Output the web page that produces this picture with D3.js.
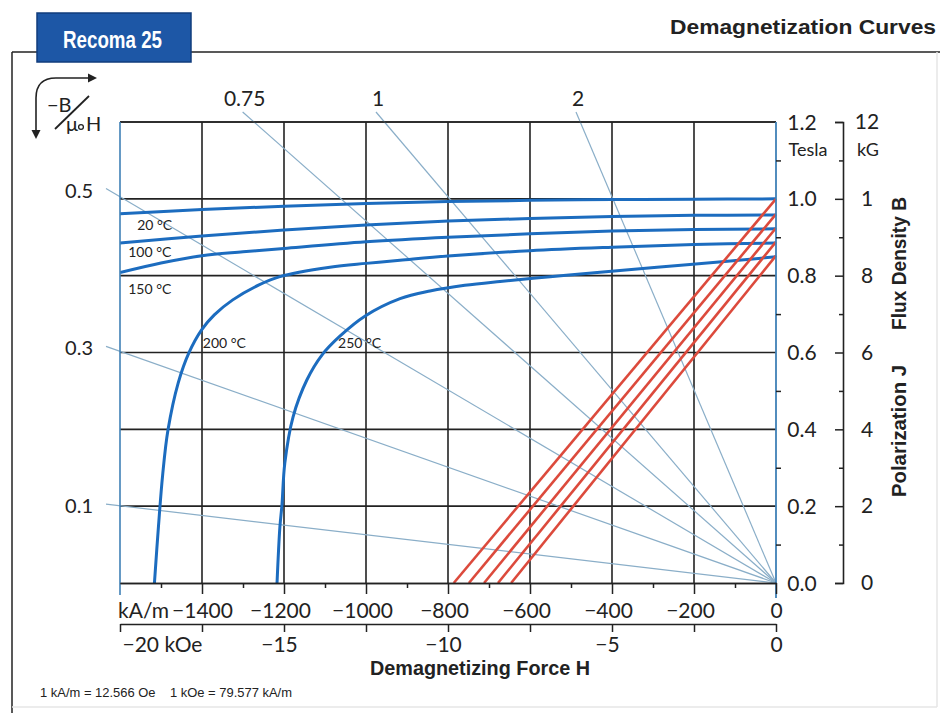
<!DOCTYPE html>
<html>
<head>
<meta charset="utf-8">
<script src="https://cdn.jsdelivr.net/npm/d3@7"></script>
<style>
  body { margin: 0; background: #fff; }
  svg { display: block; }
  .num { font-family: Lato, "Open Sans", sans-serif; font-size: 21px; fill: #222; }
  .small { font-family: Lato, "Open Sans", sans-serif; font-size: 14px; fill: #222; }
  .cond { font-family: "Liberation Sans", Arial, sans-serif; font-weight: bold; fill: #222; }
</style>
</head>
<body>
<div id="chart"></div>
<script>
// ---- data (H in kA/m, J and B in tesla) ----
const tempLabels = ["20 °C", "100 °C", "150 °C", "200 °C", "250 °C"];

// polarization curves J(H), one list per temperature
const j20  = [[0,1.000],[-200,0.999],[-400,0.998],[-600,0.996],[-800,0.993],[-1000,0.988],[-1200,0.981],[-1400,0.972],[-1600,0.961]];
const j100 = [[0,0.958],[-200,0.957],[-400,0.954],[-600,0.949],[-800,0.942],[-1000,0.932],[-1200,0.919],[-1400,0.903],[-1600,0.885]];
const j150 = [[0,0.922],[-200,0.920],[-400,0.916],[-600,0.909],[-800,0.900],[-1000,0.888],[-1200,0.871],[-1300,0.862],[-1400,0.852],[-1500,0.833],[-1600,0.808]];
const j200 = [[0,0.885],[-200,0.881],[-400,0.874],[-600,0.865],[-800,0.851],[-917,0.840],[-1000,0.832],[-1088,0.822],[-1212,0.797],[-1261,0.776],[-1325,0.737],[-1370,0.698],[-1401,0.659],[-1432,0.599],[-1458,0.521],[-1483,0.398],[-1496,0.281],[-1506,0.150],[-1516,0.000]];
const j250 = [[0,0.849],[-210,0.829],[-429,0.809],[-551,0.797],[-673,0.785],[-759,0.775],[-844,0.760],[-917,0.740],[-1002,0.695],[-1063,0.643],[-1107,0.594],[-1144,0.529],[-1178,0.432],[-1198,0.312],[-1205,0.203],[-1210,0.146],[-1217,0.000]];
const jCurves = [j20, j100, j150, j200, j250];

// straight B lines: remanence at H = 0 and coercivity HcB at B = 0
const bRemanence  = [1.000, 0.960, 0.924, 0.888, 0.852];
const bCoercivity = [-786, -749, -712, -678, -646];

// load lines  -B / mu0 H
const permeance = [0.1, 0.3, 0.5, 0.75, 1, 2];
const permeanceLabels = ["0.1", "0.3", "0.5", "0.75", "1", "2"];

// ticks
const hTicks = [-1400, -1200, -1000, -800, -600, -400, -200, 0];
const hMinorTicks = [-1500, -1300, -1100, -900, -700, -500, -300, -100];
const oeTicks = [-20, -17.5, -15, -12.5, -10, -7.5, -5, -2.5, 0];
const oeLabelled = [-20, -15, -10, -5, 0];
const teslaTicks = [0, 0.2, 0.4, 0.6, 0.8, 1.0, 1.2];
const teslaMinorTicks = [0.1, 0.3, 0.5, 0.7, 0.9, 1.1];
const kgTicks = [0, 1, 2, 3, 4, 5, 6, 7, 8, 9, 10, 11, 12];
const kgLabels = ["0", "", "2", "", "4", "", "6", "", "8", "", "1", "", "12"];

// ---- layout ----
const W = 940, H = 713;
const MU0 = 4 * Math.PI * 1e-4;   // tesla per kA/m
const minus = "\u2212";

const svg = d3.select("#chart").append("svg").attr("width", W).attr("height", H);

const x = d3.scaleLinear().domain([-1600, 0]).range([120, 776]);
const y = d3.scaleLinear().domain([0, 1.2]).range([583, 122]);
const xOe = d3.scaleLinear().domain([-20, 0]).range([120, 776]);
const yKg = d3.scaleLinear().domain([0, 12]).range([583, 122]);

svg.append("defs").append("clipPath").attr("id", "plot")
  .append("rect").attr("x", 120).attr("y", 122).attr("width", 656).attr("height", 461);

// page frame
svg.append("line").attr("x1", 12).attr("x2", 940).attr("y1", 52).attr("y2", 52).attr("stroke", "#222").attr("stroke-width", 1.5);
svg.append("line").attr("x1", 12).attr("x2", 12).attr("y1", 52).attr("y2", 713).attr("stroke", "#222").attr("stroke-width", 1.5);
svg.append("line").attr("x1", 937).attr("x2", 937).attr("y1", 52).attr("y2", 707).attr("stroke", "#e6e6e6").attr("stroke-width", 1.5);
svg.append("line").attr("x1", 12).attr("x2", 937).attr("y1", 707).attr("y2", 707).attr("stroke", "#e6e6e6").attr("stroke-width", 1.5);

// header box
svg.append("rect").attr("x", 37).attr("y", 13).attr("width", 154).attr("height", 49)
  .attr("fill", "#1d57a6").attr("stroke", "#103c7c").attr("stroke-width", 1.5);
svg.append("text").attr("class", "cond").attr("x", 63).attr("y", 48)
  .attr("textLength", 99).attr("lengthAdjust", "spacingAndGlyphs")
  .style("font-size", "23px").style("fill", "#fff").text("Recoma 25");

svg.append("text").attr("class", "cond").attr("x", 670).attr("y", 34)
  .attr("textLength", 266).attr("lengthAdjust", "spacingAndGlyphs")
  .style("font-size", "20px").text("Demagnetization Curves");

// -B / mu0 H symbol with corner arrow
const sym = svg.append("g");
sym.append("path").attr("d", "M36,132 L36,98 Q36,78 56,78 L90,78")
  .attr("fill", "none").attr("stroke", "#222").attr("stroke-width", 1.6);
sym.append("path").attr("d", "M31.5,130 L40.5,130 L36,139 Z").attr("fill", "#222");
sym.append("path").attr("d", "M88,73.5 L88,82.5 L97,78 Z").attr("fill", "#222");
sym.append("text").attr("class", "num").attr("x", 47).attr("y", 112).style("font-size", "20px").text(minus + "B");
sym.append("line").attr("x1", 55).attr("y1", 129).attr("x2", 89).attr("y2", 96).attr("stroke", "#222").attr("stroke-width", 1.8);
sym.append("text").attr("class", "num").attr("x", 66).attr("y", 131).style("font-size", "20px").text("\u03bc");
sym.append("circle").attr("cx", 81).attr("cy", 127).attr("r", 2.4).attr("fill", "none").attr("stroke", "#222").attr("stroke-width", 1.3);
sym.append("text").attr("class", "num").attr("x", 86).attr("y", 131).style("font-size", "20px").text("H");

// grid
const grid = svg.append("g").attr("stroke", "#222").attr("stroke-width", 1.6);
grid.selectAll("line.v").data(hTicks.filter(d => d < 0)).join("line").attr("class", "v")
  .attr("x1", d => x(d)).attr("x2", d => x(d)).attr("y1", y(0)).attr("y2", y(1.2));
grid.selectAll("line.h").data(teslaTicks.filter(d => d > 0)).join("line").attr("class", "h")
  .attr("x1", x(-1600)).attr("x2", x(0)).attr("y1", d => y(d)).attr("y2", d => y(d));

// load lines from the origin, running a little past the frame
const hEnd = x.invert(106), bEnd = y.invert(112);
const loads = permeance.map((p, i) => {
  const bAtLeft = -p * MU0 * hEnd;
  const left = bAtLeft <= bEnd;
  const end = left ? [hEnd, bAtLeft] : [-bEnd / (p * MU0), bEnd];
  return { p, label: permeanceLabels[i], end, side: left ? "left" : "top" };
});
svg.append("g").selectAll("line").data(loads).join("line")
  .attr("x1", x(0)).attr("y1", y(0))
  .attr("x2", d => x(d.end[0])).attr("y2", d => y(d.end[1]))
  .attr("stroke", "#8aaec8").attr("stroke-width", 1.2);
svg.append("g").selectAll("text").data(loads).join("text").attr("class", "num")
  .attr("x", d => d.side === "left" ? 93 : x(d.end[0]) + 2)
  .attr("y", d => d.side === "left" ? y(d.end[1]) + 9 : 106)
  .attr("text-anchor", d => d.side === "left" ? "end" : "middle")
  .style("font-size", d => d.side === "left" ? "20px" : "21px")
  .text(d => d.label);

// J curves
const line = d3.line().x(d => x(d[0])).y(d => y(d[1])).curve(d3.curveCatmullRom.alpha(0.5));
svg.append("g").attr("clip-path", "url(#plot)").selectAll("path")
  .data(jCurves)
  .join("path").attr("d", line)
  .attr("fill", "none").attr("stroke", "#1c6cbf").attr("stroke-width", 3);

// B lines
svg.append("g").selectAll("line").data(bRemanence).join("line")
  .attr("x1", x(0)).attr("y1", d => y(d))
  .attr("x2", (d, i) => x(bCoercivity[i])).attr("y2", y(0))
  .attr("stroke", "#dc4a3c").attr("stroke-width", 2.6);

// temperature labels (anchor points in H / J units)
const tempLabelAt = [[-1558, 0.919], [-1580, 0.849], [-1580, 0.753], [-1398, 0.612], [-1068, 0.612]];
svg.append("g").selectAll("text").data(tempLabels).join("text").attr("class", "small")
  .attr("x", (d, i) => x(tempLabelAt[i][0])).attr("y", (d, i) => y(tempLabelAt[i][1]))
  .text(d => d);

// frame
svg.append("line").attr("x1", x(-1600)).attr("x2", x(0)).attr("y1", y(1.2)).attr("y2", y(1.2)).attr("stroke", "#222").attr("stroke-width", 1.6);
svg.append("line").attr("x1", x(-1600)).attr("x2", x(-1600)).attr("y1", y(1.2)).attr("y2", 595).attr("stroke", "#3f80b6").attr("stroke-width", 1.6);
svg.append("line").attr("x1", x(0)).attr("x2", x(0)).attr("y1", y(1.2)).attr("y2", 598).attr("stroke", "#3f80b6").attr("stroke-width", 1.8);

// H axis in kA/m
const fmtH = d => d === 0 ? "0" : minus + Math.abs(d);
const axH = svg.append("g").attr("transform", `translate(0,${y(0)})`)
  .call(d3.axisBottom(x).tickValues(hTicks).tickSize(11).tickSizeOuter(0).tickFormat(fmtH));
const axHMinor = svg.append("g").attr("transform", `translate(0,${y(0)})`)
  .call(d3.axisBottom(x).tickValues(hMinorTicks).tickSize(5).tickSizeOuter(0).tickFormat(""));
[axH, axHMinor].forEach(g => {
  g.select(".domain").attr("stroke", "#222").attr("stroke-width", 1.6);
  g.selectAll(".tick line").attr("stroke", "#222").attr("stroke-width", 1.5);
});
axH.selectAll(".tick text").attr("class", "num").attr("y", 20).attr("dy", "0.71em")
  .attr("dx", d => d < 0 && d > -1400 ? -4 : 0).attr("fill", null).attr("font-size", null).attr("font-family", null);
svg.append("text").attr("class", "num").attr("x", 118).attr("y", 618).text("kA/m");

// H axis in kOe
const axOe = svg.append("g").attr("transform", "translate(0,624)")
  .call(d3.axisBottom(xOe).tickValues(oeTicks).tickSize(8).tickSizeOuter(0)
    .tickFormat(d => oeLabelled.includes(d) ? (d === 0 ? "0" : d === -20 ? minus + "20 kOe" : minus + Math.abs(d)) : ""));
axOe.select(".domain").attr("stroke", "#222").attr("stroke-width", 1.6);
axOe.selectAll(".tick line").attr("stroke", "#222").attr("stroke-width", 1.5);
axOe.selectAll(".tick text").attr("class", "num").attr("y", 13).attr("dy", "0.71em")
  .attr("fill", null).attr("font-size", null).attr("font-family", null)
  .attr("text-anchor", d => d === -20 ? "start" : "middle")
  .attr("dx", d => d === -20 ? 2 : d < 0 ? -5 : 0);

svg.append("text").attr("class", "cond").attr("x", 370).attr("y", 675)
  .attr("textLength", 220).attr("lengthAdjust", "spacingAndGlyphs")
  .style("font-size", "21px").text("Demagnetizing Force H");
svg.append("text").attr("x", 40).attr("y", 697).attr("textLength", 252).attr("lengthAdjust", "spacingAndGlyphs")
  .style("font-family", "'Liberation Sans', Arial, sans-serif").style("font-size", "13px").style("fill", "#222")
  .style("white-space", "pre")
  .text("1 kA/m = 12.566 Oe    1 kOe = 79.577 kA/m");

// tesla axis
const axT = svg.append("g").attr("transform", `translate(${x(0)},0)`)
  .call(d3.axisRight(y).tickValues(teslaMinorTicks).tickSize(5).tickSizeOuter(0).tickFormat(""));
axT.select(".domain").remove();
axT.selectAll(".tick line").attr("stroke", "#222").attr("stroke-width", 1.5);
svg.append("g").selectAll("text").data(teslaTicks).join("text").attr("class", "num")
  .attr("x", 802).attr("y", d => y(d)).attr("dy", "0.36em").attr("text-anchor", "middle")
  .text(d => d.toFixed(1));
svg.append("text").attr("class", "num").attr("x", 808).attr("y", 156).attr("text-anchor", "middle")
  .style("font-size", "18px").text("Tesla");

// kG axis
const axKg = svg.append("g").attr("transform", "translate(843,0)")
  .call(d3.axisLeft(yKg).tickValues(kgTicks).tickSizeOuter(8).tickFormat((d, i) => kgLabels[i]));
axKg.select(".domain").attr("stroke", "#222").attr("stroke-width", 1.6);
axKg.selectAll(".tick line").attr("stroke", "#222").attr("stroke-width", 1.5)
  .attr("x2", d => d % 2 === 0 ? -8 : -4);
axKg.selectAll(".tick text").attr("class", "num").attr("x", 24).attr("text-anchor", "middle")
  .attr("fill", null).attr("font-size", null).attr("font-family", null);
svg.append("text").attr("class", "num").attr("x", 868).attr("y", 156).attr("text-anchor", "middle")
  .style("font-size", "18px").text("kG");

// rotated axis titles
svg.append("text").attr("class", "cond").attr("transform", "translate(906,330) rotate(-90)")
  .attr("textLength", 133).attr("lengthAdjust", "spacingAndGlyphs")
  .style("font-size", "21px").text("Flux Density B");
svg.append("text").attr("class", "cond").attr("transform", "translate(906,497) rotate(-90)")
  .attr("textLength", 132).attr("lengthAdjust", "spacingAndGlyphs")
  .style("font-size", "21px").text("Polarization J");
</script>
</body>
</html>
